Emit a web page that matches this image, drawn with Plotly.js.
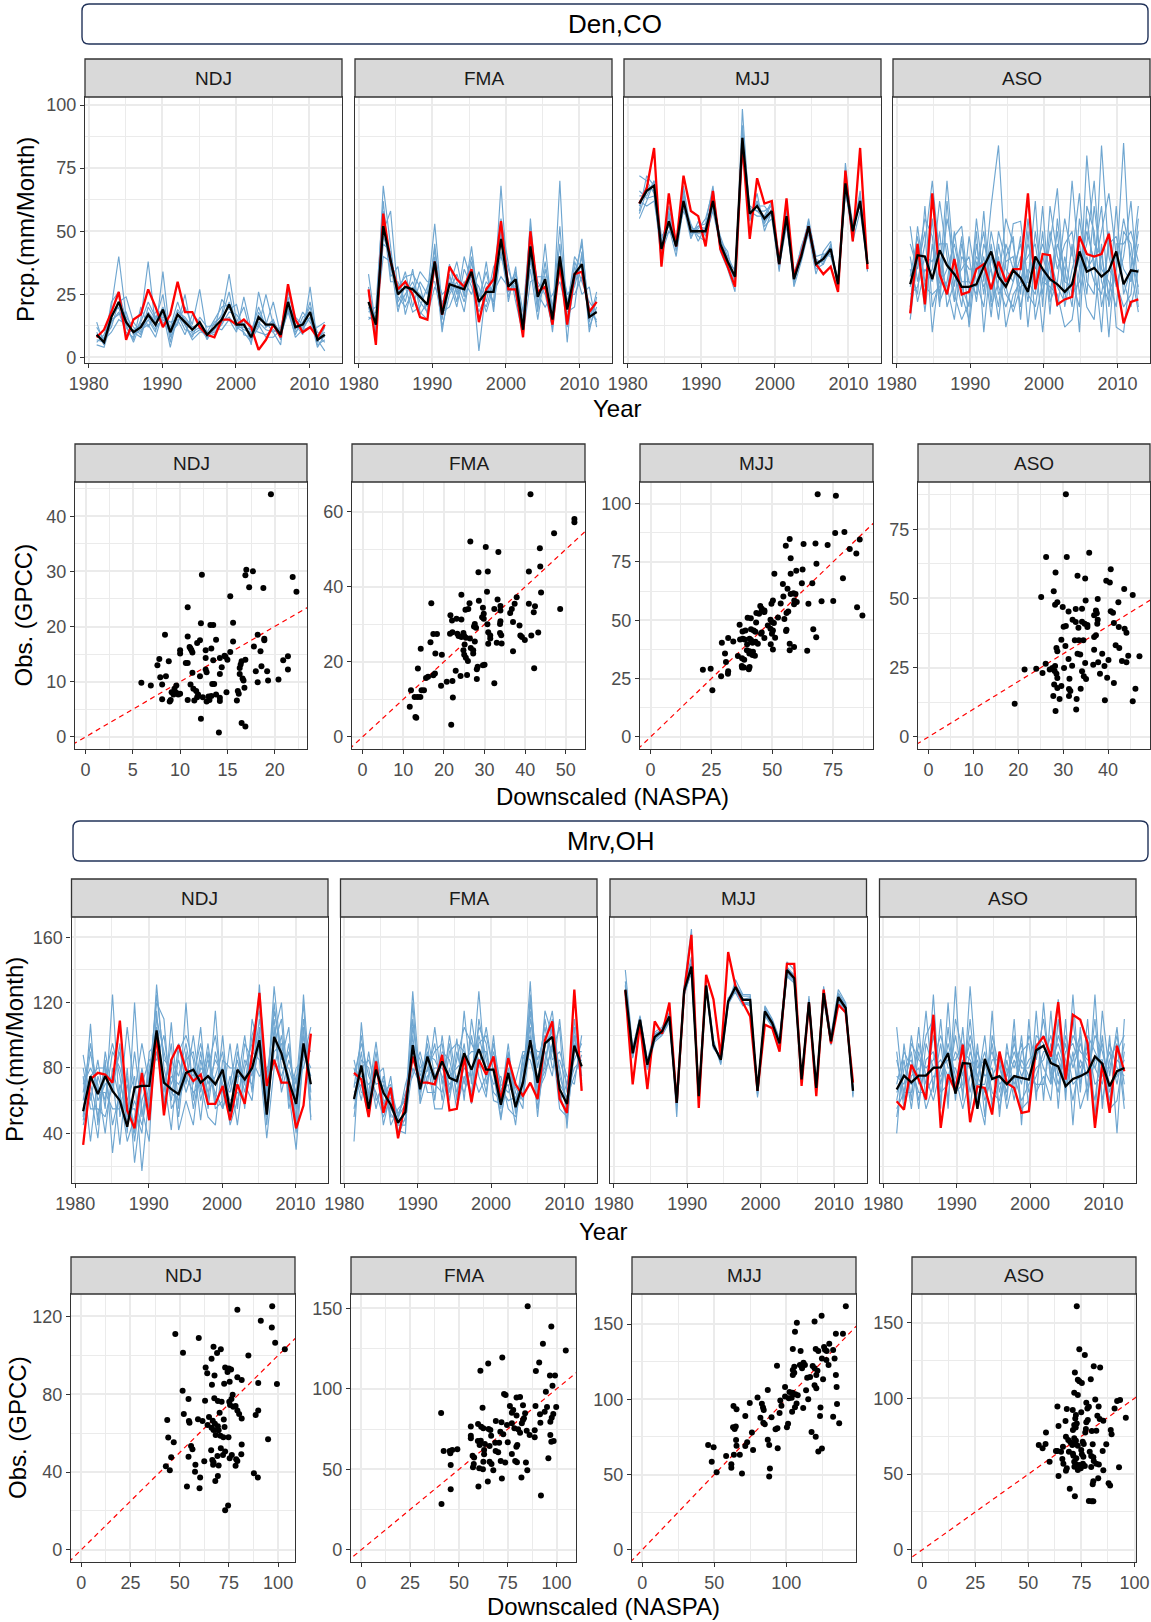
<!DOCTYPE html>
<html>
<head>
<meta charset="utf-8">
<script src="https://cdn.plot.ly/plotly-3.0.1.min.js"></script>
<style>html,body{margin:0;padding:0;background:#fff}</style>
</head>
<body>
<div id="chart" style="width:1151px;height:1622px"></div>
<script>
var seasons = ['NDJ', 'FMA', 'MJJ', 'ASO'];
var seasonMonth = [1, 4, 7, 10];
var years = [1981,1982,1983,1984,1985,1986,1987,1988,1989,1990,1991,1992,1993,1994,1995,1996,
             1997,1998,1999,2000,2001,2002,2003,2004,2005,2006,2007,2008,2009,2010,2011,2012];

// ---- Den,CO time series (obs = GPCC red, mean = black, ens = NASPA members) ----
var den_ndj_obs  = [8,11,18,26,7,15,17,27,20,12,17,30,18,18,12,9,8,15,15,13,15,12,3,7,13,8,29,15,10,12,8,13];
var den_ndj_mean = [9,6,16,22,14,10,12,17,13,19,10,17,14,11,14,9,12,15,21,13,13,8,16,13,13,9,22,12,13,18,7,9];
var den_ndj_ens = [
  [12,7,20,40,16,12,9,20,15,25,6,18,16,12,13,8,11,14,22,12,10,6,18,12,15,7,24,10,14,20,5,7],
  [5,4,14,18,10,8,15,38,12,15,12,22,13,8,16,12,13,17,33,14,20,9,14,11,10,12,21,15,11,16,8,10],
  [8,8,12,22,24,14,10,15,10,34,8,14,20,13,27,9,10,13,18,17,13,7,12,25,13,8,19,11,18,14,9,6],
  [14,5,18,25,12,7,20,12,18,18,4,17,11,10,12,8,14,16,26,11,15,5,26,14,10,5,28,13,9,28,6,12],
  [6,9,17,20,9,11,13,16,11,16,14,15,9,17,14,7,12,11,15,10,24,11,16,13,22,9,18,9,16,18,10,8],
  [10,5,22,26,15,10,8,18,14,20,11,19,15,12,13,10,15,20,21,13,11,10,20,12,14,10,22,12,12,16,4,9],
  [9,7,10,15,13,6,14,22,16,14,10,13,25,9,11,8,11,23,19,21,9,8,13,8,8,11,26,16,13,22,7,2.6],
  [7,6,15,17,18,9,11,13,8,18,9,17,13,7,10,10,9,14,16,12,12,11,10,9,11,9,20,8,11,12,12,14]
];
var den_fma_obs  = [27,5,57,38,27,30,25,16,15,38,17,36,31,28,35,14,27,31,54,27,27,8,50,26,28,13,37,13,33,34,18,22];
var den_fma_mean = [22,13,52,38,25,28,27,24,21,38,17,29,28,27,34,22,26,26,47,28,31,11,44,24,31,15,40,19,33,37,16,18];
var den_fma_ens = [
  [33,12,68,45,20,25,30,22,18,40,12,25,30,22,35,2.6,28,22,68,26,30,10,55,22,28,14,70,12,30,47,14,26],
  [15,18,50,58,25,34,20,30,25,53,20,33,22,40,30,25,20,30,45,35,25,12,40,18,45,16,35,20,40,35,18,15],
  [20,10,55,30,30,22,35,18,15,35,25,28,38,24,44,20,38,18,50,22,36,8,45,30,25,12,40,25,28,40,12,20],
  [25,15,40,38,18,30,25,34,30,30,15,37,25,30,25,34,22,36,40,30,28,14,35,15,35,20,45,6,38,30,22,18],
  [18,20,62,32,36,17,28,25,20,45,18,20,28,18,38,22,30,26,32,28,34,18,52,25,20,25,30,18,20,42,10,24],
  [28,13,45,42,22,28,18,20,28,38,10,30,20,35,28,18,25,32,55,37,22,9,30,32,32,10,38,22,36,25,28,12],
  [22,11,58,35,28,32,33,28,17,28,22,26,33,25,40,24,34,20,42,24,33,15,48,20,38,18,52,15,33,45,16,22],
  [16,14,48,40,24,20,26,17,22,43,16,32,26,28,32,28,18,28,48,30,27,11,38,28,30,15,36,25,25,32,20,14]
];
var den_mjj_obs  = [61,67,83,36,65,44,72,58,56,44,66,43,36,28,85,47,71,61,62,37,63,32,41,52,37,33,36,26,74,46,83,35];
var den_mjj_mean = [61,66,68,43,54,44,62,50,50,50,62,45,38,32,87,57,60,55,58,37,56,31,40,52,37,39,43,29,69,50,62,37];
var den_mjj_ens = [
  [72,70,65,38,58,42,66,48,52,53,68,42,35,26,98.4,55,62,52,55,35,58,28,38,50,35,37,45,27,77,48,65,34],
  [55,62,70,45,50,46,58,52,48,46,60,48,40,34,80,60,58,58,60,40,54,33,43,54,40,41,40,30,65,52,60,38],
  [60,68,66,40,56,44,64,50,50,50,64,45,38,30,90,56,62,54,57,38,57,30,41,51,36,40,44,28,70,50,63,36],
  [64,64,70,48,52,40,60,47,54,48,58,44,36,32,85,58,56,56,62,36,52,32,39,53,38,38,42,31,68,46,58,37],
  [58,72,68,42,60,46,62,53,46,52,62,46,42,29,88,54,65,50,58,34,60,29,42,49,33,42,46,26,72,53,62,39],
  [62,60,62,44,54,43,68,49,51,55,66,44,37,35,82,57,60,60,56,39,55,34,40,55,39,37,43,30,66,49,66,35],
  [57,66,69,41,50,47,60,52,49,49,60,47,39,31,92,59,58,55,61,37,58,31,44,52,36,40,41,29,70,51,61,38],
  [66,63,64,46,57,45,63,50,52,51,63,43,37,33,84,56,61,53,59,38,53,30,40,50,37,39,44,28,68,50,64,36]
];
var den_aso_obs  = [17.5,45,21,65,33,25,39,25,26,35,37,27,38,30,35,35,65,27,41,40.5,21,23,24,48,41,40,41,49,31,13.5,22,23];
var den_aso_mean = [29,40.5,40,31,42.5,36.5,33,28,28,29,36,42,32,28,34.5,31.5,26,40,35,31,29,26,29,42,34,35.5,32,34.5,42,29,34.5,34];
var den_aso_ens = [
  [52,30,45,70,40,25,50,28,20,55,30,60,84,35,30,40,22,50,30,45,67,25,30,20,80,45,40,25,35,85,30,45],
  [20,52,30,35,62,40,22,45,30,25,58,20,30,55,45,25,55,28,60,22,30,55,40,65,30,25,84,40,28,40,62,25],
  [35,25,60,20,30,70,35,20,48,30,20,45,25,30,53,54,30,62,20,60,40,30,70,35,45,70,30,22,60,25,35,60],
  [15,40,25,55,22,30,48,52,25,40,35,28,40,12,25,30,45,35,45,35,20,40,25,30,55,35,50,65,40,30,20,35],
  [40,22,35,30,50,20,30,35,40,22,45,35,20,45,35,45,25,20,40,30,50,20,35,45,25,60,35,30,20,50,45,20],
  [28,45,18,45,25,55,40,25,15,45,25,50,35,25,20,35,40,45,25,50,35,45,50,25,40,30,25,45,48,35,30,50],
  [45,35,50,10,35,28,15,40,35,35,50,22,50,38,40,20,35,30,35,25,45,35,20,55,35,40,60,20,35,55,40,28],
  [25,28,40,38,45,45,25,15,22,50,10,40,28,20,30,48,12,40,10,40,28,22,45,10,60,50,20,35,30,20,25,55],
  [32,48,28,25,28,35,45,30,30,28,40,16,45,28,18,28,30,25,50,17,55,30,28,40,20,15,45,8,45,45,50,38],
  [18,38,55,48,20,62,28,48,12,38,28,35,15,40,48,15,50,15,30,28,25,12,15,35,50,38,10,50,12,10,35,18]
];

// ---- Den,CO scatter: x = downscaled (NASPA), y = observed (GPCC) ----
var den_ndj_x = [19.6,17.0,17.7,16.9,12.3,21.9,22.3,17.3,18.8,15.3,10.8,12.2,13.2,13.5,15.6,8.4,10.8,18.2,18.9,18.9,13.8,12.1,15.6,11.8,11.0,11.2,11.1,10.0,10.0,11.3,13.3,12.7,17.8,18.5,15.3,14.7,14.8,15.0,14.2,13.5,12.7,7.8,8.8,7.6,10.6,10.8,16.5,16.4,16.3,16.9,14.4,12.7,12.8,11.3,14.2,16.3,18.0,18.6,19.2,21.4,20.9,21.4,8.5,7.9,12.1,16.6,16.7,19.3,18.2,20.4,5.9,6.9,8.1,9.6,9.4,9.1,9.6,9.8,9.3,10.0,11.1,11.4,11.7,13.4,13.6,11.8,11.9,12.4,13.0,13.3,13.8,12.8,13.1,14.2,14.2,14.9,16.1,16.2,16.0,16.8,9.0,8.1,8.9,10.8,11.5,12.2,14.1,16.5,16.9];
var den_ndj_y = [44.0,30.3,30.0,29.3,29.4,29.0,26.3,27.1,27.0,25.5,23.5,20.6,20.3,20.3,20.7,18.5,18.2,18.5,17.8,17.5,17.6,17.5,17.3,17.0,16.3,15.7,16.0,15.7,15.1,15.3,16.0,15.7,16.4,15.5,15.4,14.7,14.5,14.0,14.3,13.9,14.3,14.1,13.7,13.0,13.4,13.4,13.7,13.1,12.5,14.0,12.6,12.2,11.7,11.6,11.4,11.4,11.9,12.8,11.9,12.2,13.9,14.6,11.0,10.8,11.0,10.6,10.2,10.2,9.9,10.4,9.8,9.3,9.5,9.3,8.7,8.1,8.0,7.7,7.7,7.8,9.5,8.7,8.3,9.6,9.6,7.2,7.7,7.2,7.3,7.4,7.7,6.4,6.7,7.1,6.5,8.1,8.3,7.8,6.6,8.9,6.7,6.8,6.4,6.7,6.6,3.3,0.8,2.5,1.9];
var den_fma_x = [41.3,52.1,52.1,47.1,26.5,30.3,33.4,43.6,43.7,40.9,28.5,30.8,43.9,30.6,24.3,16.9,26.3,28.6,33.2,33.9,32.4,33.9,37.4,36.7,36.3,37.9,40.9,42.4,42.1,48.6,29.6,29.8,29.4,29.8,26.0,25.3,21.6,22.0,23.1,24.3,33.9,33.8,30.7,37.0,38.6,27.6,27.4,27.9,22.1,21.5,23.3,23.6,24.3,24.8,25.0,25.4,26.4,30.9,31.4,31.4,33.8,34.1,27.6,30.9,33.0,34.2,38.8,39.9,39.2,43.2,41.5,17.4,18.3,16.7,14.3,25.1,24.8,26.6,27.2,27.2,25.0,25.4,25.9,37.0,17.9,19.5,28.3,28.1,29.6,30.0,42.2,13.6,22.9,17.8,17.4,16.1,15.6,24.1,25.7,20.7,22.1,28.1,32.4,19.3,11.9,14.5,15.1,13.5,14.2,12.8,22.2,11.6,13.0,13.2,21.8];
var den_fma_y = [64.7,58.1,57.2,54.3,52.1,50.6,49.3,50.3,45.4,44.1,43.9,44.1,38.5,38.7,37.9,35.6,35.6,36.3,36.6,34.9,34.1,33.7,35.5,34.1,33.0,37.2,35.5,34.8,33.2,34.1,34.4,32.8,31.9,31.5,34.1,33.9,32.4,31.0,31.5,31.3,30.8,30.1,30.0,30.6,29.7,30.1,29.4,29.1,27.9,27.5,27.5,26.9,26.6,27.7,26.9,26.4,26.2,27.9,27.0,26.2,27.7,27.1,25.4,24.8,25.1,24.9,27.0,25.8,26.6,27.8,27.0,27.4,27.4,25.2,23.5,24.6,23.1,23.7,23.1,22.2,21.9,21.1,20.2,22.8,22.2,21.9,18.7,18.0,19.1,19.2,18.3,18.2,17.6,16.9,16.4,16.0,15.7,16.2,16.5,14.7,14.9,15.4,14.3,13.6,12.4,12.4,12.4,10.6,10.6,10.6,10.5,8.0,5.3,5.1,3.2];
var den_mjj_x = [68.7,76.2,57.2,55.6,62.9,67.8,72.8,75.9,79.7,81.9,86.0,84.6,57.6,68.2,79.1,62.5,59.9,57.6,50.9,62.2,66.5,54.4,56.3,54.6,57.6,58.8,59.6,59.1,60.1,59.0,50.3,49.7,53.5,64.9,70.3,75.1,56.6,55.9,84.9,87.1,45.1,45.7,46.8,45.6,46.8,43.5,44.6,52.4,55.0,39.9,41.2,49.3,50.1,50.7,48.2,36.6,43.4,55.9,55.7,66.9,49.3,50.3,37.8,39.0,41.3,42.4,43.1,45.7,45.4,49.9,51.2,46.8,68.1,36.8,37.9,38.7,40.7,41.3,34.0,31.9,29.3,41.9,43.1,44.1,39.7,49.4,57.2,59.0,57.2,50.3,64.4,39.6,40.7,42.1,30.6,40.6,41.9,42.9,35.9,37.6,38.5,31.0,37.5,38.4,37.6,40.7,40.4,31.9,31.8,21.5,24.7,29.0,25.4];
var den_mjj_y = [104.1,103.4,84.9,82.0,82.7,82.9,82.3,87.4,87.9,80.6,84.6,78.6,76.6,74.2,68.0,71.8,71.2,70.0,70.0,65.9,65.9,65.6,63.5,60.2,61.3,61.6,61.3,58.5,57.8,56.9,58.5,57.1,57.2,57.1,58.2,58.3,53.8,53.1,55.6,52.1,56.1,54.9,54.2,53.8,53.5,53.1,52.8,51.2,50.5,51.1,50.9,50.2,49.2,48.8,47.8,48.1,49.1,45.9,45.4,46.2,46.4,45.6,45.2,45.6,46.1,45.6,45.1,44.8,44.2,44.2,42.5,42.4,42.7,41.8,42.1,41.8,42.1,41.5,40.9,42.4,40.4,40.4,40.8,39.9,39.7,39.7,39.9,38.5,37.1,37.5,36.9,37.1,36.7,36.5,35.7,35.7,35.1,34.8,34.7,33.7,33.1,32.1,30.4,29.8,29.7,30.0,29.0,28.1,27.1,28.8,29.2,26.0,20.0];
var den_aso_x = [30.6,26.2,30.8,35.8,28.3,33.2,34.9,40.6,39.6,40.4,43.6,45.5,27.9,25.1,28.7,28.2,29.9,32.8,31.2,34.2,37.7,35.0,42.3,37.3,37.5,36.9,40.6,41.1,32.1,32.8,34.2,34.8,35.4,30.1,30.6,33.4,37.7,37.6,41.3,42.4,43.7,44.1,35.4,37.3,36.9,29.6,32.6,33.5,34.5,30.5,28.5,28.7,36.9,33.2,33.8,38.7,41.7,42.5,47.0,44.5,43.1,44.1,40.1,37.8,31.2,36.7,34.9,32.0,30.2,26.1,27.0,27.6,28.2,28.1,21.4,24.0,25.4,28.5,28.7,31.4,34.2,34.6,35.1,38.2,39.8,39.2,41.3,28.0,28.7,29.6,31.3,31.6,33.9,46.1,27.8,29.2,31.3,33.0,39.3,45.5,19.2,28.3,32.9];
var den_aso_y = [87.7,65.0,65.0,66.5,59.4,58.2,57.2,60.6,56.4,55.8,53.4,51.3,52.6,50.5,48.6,47.7,46.9,46.2,45.3,46.3,49.8,49.3,48.6,45.7,44.7,43.9,45.4,44.8,42.3,41.5,41.6,40.9,40.4,39.8,40.1,39.4,42.3,40.9,41.1,39.7,39.1,37.6,39.7,36.7,36.1,35.1,34.9,34.9,34.9,32.8,32.1,30.9,31.5,30.0,29.8,30.0,33.1,32.1,29.1,29.3,27.4,27.0,27.8,27.0,28.1,26.1,26.7,25.7,24.9,26.4,24.3,24.9,25.6,23.8,24.3,24.6,23.1,22.8,21.3,21.0,23.7,21.9,20.9,22.8,21.4,25.6,19.5,18.9,17.7,18.4,17.3,16.6,17.4,17.4,14.8,13.7,14.8,13.7,13.2,12.9,12.0,9.3,9.9];

// ---- Mrv,OH time series ----
var mrv_ndj_obs  = [33,73,77,76,71,109,54,43,77,48,101,51,85,94,79,72,76,58,58,69,48,70,58,88,126,69,85,71,71,43,57,101];
var mrv_ndj_mean = [53.5,75,64,75,66,60,44,68,69,69,103,71,67,64,77,79,71,75,70,79,53.5,79,73,80,97,51.5,99,89,72,58,95,70];
var mrv_ndj_ens = [
  [88,60,85,55,125,50,70,40,70,60,131,80,60,95,70,100,65,95,60,100,50,70,100,65,131,60,130,85,105,45,125,65],
  [50,107,45,90,65,95,40,120,50,80,100,55,108,55,120,60,90,60,115,55,70,95,55,110,90,45,100,120,60,80,85,105],
  [70,80,70,40,80,60,105,65,95,70,110,90,70,85,65,80,75,85,70,80,45,60,85,75,110,75,110,70,95,55,105,50],
  [45,65,37,85,28,70,55,55,40,90,95,70,85,75,95,70,105,55,90,70,65,85,65,90,85,37,80,100,65,30,90,80],
  [60,90,60,70,75,33,80,22,60,75,120,110,55,65,85,90,60,80,100,65,55,75,75,70,95,65,120,80,80,65,110,70],
  [75,35,75,60,90,80,60,75,17,65,90,65,95,42,60,45,85,65,75,90,50,90,70,100,115,55,90,95,70,50,95,90],
  [55,75,80,80,45,65,35,50,80,55,105,75,42,90,100,85,48,90,55,60,95,55,95,85,75,80,85,75,90,60,100,60],
  [80,55,55,50,70,90,50,90,55,35,115,60,75,70,80,75,95,70,85,75,60,65,60,80,100,70,95,110,55,75,80,100],
  [65,95,65,65,55,55,75,35,70,85,85,100,65,60,75,65,70,50,45,85,80,80,70,60,105,50,105,65,85,70,120,48],
  [48,70,50,75,95,75,45,60,45,70,125,85,80,50,90,55,80,75,65,55,75,45,80,95,120,65,115,90,75,40,90,75]
];
var mrv_fma_obs  = [77,73,50,84,52.5,68,37,59,87,71,71,70,88,54,55,87,59,85,76,87,60,86,70,63,71,61,97,108.5,61,52.5,128,66];
var mrv_fma_mean = [61,81.5,55,79,65,57.5,46.5,53,94,67,87,73,84,74,72,89,79,91.6,79,79,57.5,77,56,71,97,71,95,99,67,58,93.6,81];
var mrv_fma_ens = [
  [35,108,60,90,55,75,40,55,127,70,95,60,100,65,98,60,110,80,105,75,48,80,60,70,133,60,115,100,80,55,110,75],
  [80,60,90,60,70,50,50,65,75,90,70,105,70,95,60,115,70,127,70,90,70,65,72,90,90,75,80,110,60,70,85,95],
  [60,90,55,85,45,65,45,45,100,60,100,75,85,75,80,85,90,90,90,65,60,95,55,65,110,85,100,90,105,43,100,70],
  [70,75,70,75,80,45,55,60,90,80,85,55,55,80,55,75,65,100,80,85,65,70,45,85,100,50,95,115,75,60,95,80],
  [85,65,65,96,60,60,38,50,110,65,80,90,95,60,90,70,100,75,62,100,55,85,65,55,125,70,110,85,90,75,70,100],
  [50,85,80,55,75,55,48,70,85,75,90,70,65,100,70,95,58,110,85,70,75,55,50,75,115,65,75,95,55,50,105,68],
  [65,70,50,80,65,70,42,40,120,58,75,80,80,70,75,65,80,65,75,80,50,75,68,60,95,90,90,75,110,65,80,85],
  [75,95,75,65,50,62,52,62,95,85,65,65,90,85,65,80,75,105,95,60,58,90,58,80,105,55,85,105,65,48,90,90],
  [55,80,85,70,72,52,46,48,80,70,88,85,75,65,85,105,95,85,65,95,68,60,62,70,120,80,105,80,85,70,100,72],
  [68,100,62,82,58,68,50,58,105,78,78,95,60,90,95,90,62,95,100,78,62,88,52,88,85,68,78,92,70,62,75,88]
];
var mrv_mjj_obs  = [127.5,70,107.5,67,108.5,101,120,58.6,126,161.5,55.6,137,122,87,151,130,120,111.5,66,106.5,104.4,90,143.7,143.7,69,120,62.7,128,95,118.7,114,71];
var mrv_mjj_mean = [128,89,109.5,82,99,102.4,111.5,58.6,127,142,62.7,130.5,94,85,120.7,129.5,121.7,121.7,66,114.6,107.5,95,140,135,73,120.3,67.8,125.8,96.3,123.4,116.7,66];
var mrv_mjj_ens = [
  [140,92,112,85,102,105,114,50,130,165,60,133,96,82,118,134,125,125,62,118,110,98,145,140,70,124,66,130,100,128,120,62],
  [122,86,106,80,96,100,108,60,124,140,65,128,92,88,123,126,118,120,68,112,105,92,136,132,75,118,70,122,94,120,113,68],
  [130,90,110,83,100,104,112,57,128,145,62,131,95,84,121,130,122,123,64,116,109,96,142,136,72,121,66,127,97,125,118,64],
  [125,88,108,79,98,101,110,60,126,138,64,129,93,86,119,128,120,118,67,113,106,94,138,134,74,119,69,124,95,122,115,67],
  [133,91,111,84,101,103,113,56,129,148,61,132,97,83,122,131,124,124,63,117,108,97,141,137,71,122,67,128,98,126,119,63],
  [127,87,108,81,97,102,110,59,125,141,64,129,92,86,120,128,120,120,66,113,106,93,139,134,74,119,68,124,95,122,116,67],
  [131,89,111,82,99,103,112,58,127,143,63,131,94,85,121,130,122,122,65,115,108,95,141,135,73,121,68,126,96,124,117,65],
  [124,87,107,80,98,101,109,59,125,139,63,128,93,85,119,127,120,119,66,114,106,94,137,133,73,119,68,125,95,121,115,66]
];
var mrv_aso_obs  = [59.6,54.5,82,73,60.7,112.6,43.3,76,65.7,94.3,46.8,68.8,67.8,51.5,90,70.8,67.8,52.5,53.5,93.2,99.3,87,120.3,72.9,112.6,109.5,95.3,43.3,83,52.5,93.6,78];
var mrv_aso_mean = [66.8,75.3,71.2,75.3,75.3,80,80.4,89,64.3,83,82.6,55,85.5,73.3,75,70,75,74,72.9,90.8,93.6,83,81,68.8,73.3,75,77.4,87,82.6,68.8,78,80];
var mrv_aso_ens = [
  [105,60,100,70,115,65,110,55,130,60,130,70,100,55,90,60,110,45,110,60,120,70,122,60,125,65,110,50,115,75,105,60],
  [40,95,60,105,60,125,55,120,60,105,55,95,50,115,50,95,65,100,55,115,60,115,55,110,45,105,60,125,55,100,40,110],
  [75,70,90,55,95,80,85,75,90,80,95,60,80,90,70,75,90,75,85,90,100,85,95,80,100,90,85,80,95,65,85,80],
  [60,85,55,90,70,100,70,95,75,55,75,85,60,75,85,55,75,60,70,80,85,100,75,95,70,75,95,70,75,90,70,95],
  [90,55,75,80,55,70,95,60,110,90,85,75,90,65,60,85,60,90,95,65,75,60,110,65,90,55,70,110,60,85,95,55],
  [50,80,85,60,85,90,60,105,65,70,110,65,45,100,80,65,100,55,60,100,95,80,65,100,80,95,80,60,100,55,60,90],
  [85,65,65,95,75,60,80,85,85,95,65,90,75,80,55,80,70,85,75,70,70,95,85,70,110,70,100,90,80,80,100,70],
  [65,75,70,75,100,110,65,70,100,75,100,80,85,60,75,70,85,70,100,85,110,75,100,85,60,85,75,100,90,70,75,85],
  [70,90,80,65,65,75,75,90,70,85,80,70,70,95,65,90,80,95,65,75,90,90,70,90,95,80,90,80,70,95,80,75],
  [55,65,95,85,80,85,100,80,80,65,90,75,65,85,85,75,95,80,80,95,80,70,90,75,85,100,65,85,85,60,90,100]
];

// ---- Mrv,OH scatter ----
var mrv_ndj_x = [97.0,79.3,91.2,96.8,47.8,59.7,98.5,67.2,70.9,69.0,51.7,103.4,84.9,66.2,63.2,64.0,67.7,73.1,75.0,76.1,74.3,79.3,81.5,75.4,72.6,66.4,89.9,99.4,51.5,54.5,62.9,67.6,69.4,71.3,76.9,76.3,75.2,75.6,77.2,78.4,79.3,80.2,81.5,70.3,89.9,88.6,52.1,54.7,55.0,43.7,59.3,61.6,64.9,66.8,67.9,64.2,66.2,67.2,69.4,69.8,68.3,72.4,72.8,70.7,72.2,74.8,44.2,47.0,81.5,94.9,55.8,56.5,54.5,70.9,73.1,72.0,66.0,69.2,75.4,76.5,78.7,79.3,81.3,66.6,67.2,67.0,69.8,62.5,58.0,57.8,45.7,43.0,45.0,78.4,87.7,89.7,60.4,69.4,68.1,53.7,60.1,73.1,74.6];
var mrv_ndj_y = [125.3,123.5,117.8,114.4,111.0,108.9,106.5,104.5,103.1,101.2,101.4,103.1,100.0,98.3,93.8,90.8,89.7,93.8,93.3,92.8,91.4,88.7,87.3,86.5,85.4,84.9,85.8,85.3,81.8,77.6,76.7,77.9,76.5,76.2,79.8,77.6,76.2,74.5,73.6,74.0,71.6,69.9,67.6,70.5,71.7,69.3,69.9,66.3,65.4,66.8,67.1,66.3,68.3,66.4,64.9,64.2,62.8,61.6,63.5,61.5,59.1,67.0,63.2,58.7,57.9,57.9,57.7,55.3,54.1,56.8,53.4,51.7,47.8,52.2,50.5,48.8,51.2,48.3,47.1,48.8,46.6,45.7,49.1,46.2,45.0,43.7,43.3,45.5,43.8,40.2,47.6,43.0,40.9,43.2,39.4,37.2,37.2,38.0,35.4,32.5,31.7,20.4,22.8];
var mrv_fma_x = [85.2,97.3,93.0,104.7,72.2,65.0,91.1,89.4,61.0,96.6,99.2,97.9,94.5,73.1,73.9,79.5,81.3,62.1,76.1,82.8,89.2,95.1,99.8,77.8,77.1,79.5,83.9,83.3,91.5,93.9,98.3,97.5,96.8,68.9,71.8,74.6,77.1,82.8,82.2,91.7,56.1,59.8,61.4,62.5,65.2,66.1,78.4,80.3,81.3,84.7,86.2,88.8,88.8,96.8,97.3,98.5,56.1,56.1,66.5,71.2,72.7,61.2,59.7,60.6,63.3,68.6,70.6,75.0,79.4,79.9,65.7,62.9,68.8,70.1,77.1,62.9,57.0,57.8,42.2,45.3,46.6,49.2,45.6,45.8,57.6,57.2,62.5,60.4,62.3,65.7,66.7,71.4,73.7,78.8,79.7,84.3,67.6,85.0,95.8,64.8,72.0,82.0,60.0,45.8,41.1,92.0,40.9];
var mrv_fma_y = [151.4,138.8,128.0,123.9,119.5,115.8,116.4,111.1,111.3,108.4,108.4,101.9,98.2,96.8,96.2,94.7,94.9,88.3,89.3,89.8,89.3,88.7,88.7,86.9,85.2,83.4,84.8,81.7,84.2,85.8,84.4,82.1,79.6,80.0,79.2,77.6,78.6,80.7,78.6,79.0,76.7,78.2,76.5,75.5,75.1,74.5,75.5,74.9,72.8,74.0,71.4,74.3,69.9,71.4,67.2,67.6,70.9,69.3,70.9,73.4,71.8,67.8,67.6,65.1,65.8,66.6,66.6,66.8,64.1,65.1,64.5,62.0,61.4,60.6,59.6,59.4,58.5,57.3,61.4,61.4,62.0,62.5,60.0,52.7,53.4,51.3,54.8,50.7,50.1,54.8,53.4,55.2,54.2,55.2,54.4,54.2,49.4,49.4,56.9,42.4,44.3,44.9,39.3,37.6,28.5,33.7,85.0];
var mrv_mjj_x = [141.4,124.6,107.4,119.7,106.1,134.5,139.4,129.9,126.3,126.9,128.1,120.5,122.3,104.6,110.0,132.6,133.6,124.8,127.9,129.4,93.6,112.0,113.0,109.5,111.0,105.6,104.6,105.6,104.6,118.4,119.7,121.7,120.9,114.6,116.6,125.6,134.5,99.2,119.7,120.9,135.0,113.8,102.3,104.4,106.4,108.0,87.2,99.2,101.8,103.8,80.1,95.9,83.1,83.9,84.4,74.7,96.7,95.4,107.2,106.1,111.8,115.3,123.8,135.3,63.4,65.5,104.1,89.8,82.1,71.6,84.1,85.1,101.3,100.5,93.9,92.6,63.1,65.0,64.2,132.6,123.5,136.8,117.6,120.5,76.2,65.2,65.5,72.9,71.6,87.2,88.2,94.1,77.0,122.3,124.8,45.8,49.6,58.3,67.8,63.7,48.3,61.9,61.9,51.7,69.3,88.7,88.2];
var mrv_mjj_y = [161.9,155.5,150.9,151.8,144.9,143.6,143.6,136.9,134.7,132.9,132.1,133.4,132.1,133.4,132.1,132.7,127.2,127.2,126.1,122.8,122.3,124.3,122.8,122.8,120.6,121.7,119.5,117.7,116.2,122.1,120.6,119.0,116.2,114.4,114.8,113.3,116.2,108.2,109.3,107.3,108.2,106.0,104.9,104.4,103.3,102.7,106.2,101.8,100.7,101.1,101.3,99.3,97.1,94.5,92.9,97.6,95.8,90.9,97.3,94.7,94.2,100.0,94.5,96.9,95.6,93.4,91.8,88.1,87.8,88.9,84.5,83.4,83.8,81.4,80.8,80.1,81.4,81.9,80.3,88.5,88.9,84.1,78.3,75.2,77.9,73.0,69.2,71.5,69.0,73.2,69.7,67.5,66.4,65.3,67.3,69.7,68.1,62.4,63.1,63.1,58.6,56.9,54.6,51.5,50.7,54.0,48.7];
var mrv_aso_x = [72.8,74.0,76.6,80.8,83.8,71.9,79.4,73.3,74.0,75.2,71.6,73.3,81.5,91.8,93.2,95.9,90.6,63.7,70.9,68.1,74.9,77.3,77.8,78.5,83.1,72.4,72.1,72.8,78.0,77.3,82.5,83.6,85.3,67.5,71.6,72.3,71.0,64.2,77.1,76.8,79.9,82.0,88.8,89.2,58.3,58.1,54.9,56.7,67.7,68.8,69.8,71.6,72.4,75.6,76.1,71.9,70.7,73.3,80.3,86.7,66.3,65.4,63.0,63.7,69.1,71.0,74.9,78.9,85.0,71.2,72.6,75.2,75.9,79.6,80.6,80.8,82.0,66.0,66.5,60.0,71.6,72.3,74.0,75.7,76.6,74.7,71.7,73.3,68.1,67.7,79.6,83.2,85.3,92.7,64.2,82.9,80.6,80.3,87.8,88.5,69.5,71.9,78.5,79.9,80.6];
var mrv_aso_y = [160.9,132.5,128.6,121.3,120.4,117.1,112.7,112.3,111.4,110.1,103.7,102.2,99.3,98.2,98.9,87.3,93.4,94.7,92.3,93.0,90.8,97.1,93.4,94.5,94.7,89.0,86.8,83.5,85.7,84.2,88.6,86.4,85.3,85.1,82.4,80.7,79.1,81.8,79.8,77.4,78.5,78.7,79.1,76.3,77.4,69.9,69.2,67.0,74.7,72.5,71.0,73.6,72.1,71.4,69.9,69.9,69.2,68.8,69.7,69.7,68.1,64.8,65.3,65.3,64.8,63.5,65.9,64.8,65.3,62.2,60.4,63.1,61.5,62.0,61.1,58.7,56.9,60.0,56.9,58.2,58.2,56.7,56.0,56.9,55.4,53.8,54.9,52.7,53.8,52.3,54.7,56.3,52.5,54.5,48.8,47.3,45.3,43.3,44.0,42.4,40.4,35.4,32.3,32.1,32.1];

// ---- figure geometry (pixels) ----
var W = 1151, H = 1622;
var FONT = '"Liberation Sans", Arial, Helvetica, sans-serif';
function fx(p) { return p / W; }
function fy(p) { return 1 - p / H; }

var rows = [
  {kind: 'ts', site: 'den', strip: [59, 97], panel: [97, 363],
   cols: [[85, 342], [355, 612], [624, 881], [893, 1150]], yDtick: 25,
   xTitle: 'Year', xTitleY: 409, yTitle: 'Prcp.(mm/Month)', yTitleX: 25},
  {kind: 'sc', site: 'den', strip: [444, 482], panel: [482, 749],
   cols: [[75, 307], [352, 585], [640, 873], [918, 1150]], xDticks: [5, 10, 25, 10], yDticks: [10, 20, 25, 25],
   xTitle: 'Downscaled (NASPA)', xTitleY: 796, yTitle: 'Obs. (GPCC)', yTitleX: 23},
  {kind: 'ts', site: 'mrv', strip: [879, 917], panel: [917, 1183],
   cols: [[71.5, 328], [340.5, 597], [610, 866.5], [879.5, 1136]], yDtick: 40,
   xTitle: 'Year', xTitleY: 1231, yTitle: 'Prcp.(mm/Month)', yTitleX: 14},
  {kind: 'sc', site: 'mrv', strip: [1257, 1294], panel: [1294, 1562],
   cols: [[71, 295], [351, 576], [632, 856], [912, 1136]], xDticks: [25, 25, 50, 25], yDticks: [40, 50, 50, 50],
   xTitle: 'Downscaled (NASPA)', xTitleY: 1606, yTitle: 'Obs. (GPCC)', yTitleX: 17}
];
var headers = [
  {text: 'Den,CO', box: [82, 4, 1148, 44]},
  {text: 'Mrv,OH', box: [73, 821, 1148, 861]}
];

var tsData = {
  den: [[den_ndj_ens, den_ndj_obs, den_ndj_mean], [den_fma_ens, den_fma_obs, den_fma_mean],
        [den_mjj_ens, den_mjj_obs, den_mjj_mean], [den_aso_ens, den_aso_obs, den_aso_mean]],
  mrv: [[mrv_ndj_ens, mrv_ndj_obs, mrv_ndj_mean], [mrv_fma_ens, mrv_fma_obs, mrv_fma_mean],
        [mrv_mjj_ens, mrv_mjj_obs, mrv_mjj_mean], [mrv_aso_ens, mrv_aso_obs, mrv_aso_mean]]
};
var scData = {
  den: [[den_ndj_x, den_ndj_y], [den_fma_x, den_fma_y], [den_mjj_x, den_mjj_y], [den_aso_x, den_aso_y]],
  mrv: [[mrv_ndj_x, mrv_ndj_y], [mrv_fma_x, mrv_fma_y], [mrv_mjj_x, mrv_mjj_y], [mrv_aso_x, mrv_aso_y]]
};

// ggplot-like 5% expansion
function padRange(lo, hi) { var d = (hi - lo) * 0.05; return [lo - d, hi + d]; }
function seasonX(j) { return years.map(function (y) { return y + seasonMonth[j] / 12; }); }

function axisStyle(domain, anchor, range, dtick, tick0) {
  return {
    domain: domain, anchor: anchor, range: range, tick0: tick0, dtick: dtick,
    showline: true, mirror: true, linecolor: '#333333', linewidth: 1.3,
    showgrid: true, gridcolor: '#ebebeb', gridwidth: 1.8, zeroline: false,
    minor: {tick0: tick0, dtick: dtick / 2, showgrid: true, gridcolor: '#ebebeb', gridwidth: 0.9},
    ticks: 'outside', ticklen: 4, tickwidth: 1.3, tickcolor: '#333333',
    tickfont: {family: FONT, size: 18, color: '#4d4d4d'},
    fixedrange: true
  };
}

var traces = [], shapes = [], annotations = [];
var layout = {
  width: W, height: H, margin: {l: 0, r: 0, t: 0, b: 0},
  paper_bgcolor: '#ffffff', plot_bgcolor: '#ffffff', showlegend: false,
  font: {family: FONT}, shapes: shapes, annotations: annotations
};

var n = 0;
rows.forEach(function (row) {
  var tsY, tsXR;
  if (row.kind === 'ts') {
    var all = [], xs = [];
    tsData[row.site].forEach(function (s, j) {
      s[0].forEach(function (m) { all = all.concat(m); });
      all = all.concat(s[1], s[2]);
      xs = xs.concat(seasonX(j));
    });
    tsY = padRange(Math.min.apply(null, all), Math.max.apply(null, all));
    tsXR = padRange(Math.min.apply(null, xs), Math.max.apply(null, xs));
  }

  row.cols.forEach(function (c, j) {
    n++;
    var sfx = n === 1 ? '' : String(n);
    var xr, yr;
    var xdom = [fx(c[0]), fx(c[1])], ydom = [fy(row.panel[1]), fy(row.panel[0])];

    if (row.kind === 'ts') {
      var s = tsData[row.site][j], xv = seasonX(j);
      xr = tsXR; yr = tsY;
      s[0].forEach(function (m) {
        traces.push({x: xv, y: m, xaxis: 'x' + sfx, yaxis: 'y' + sfx, type: 'scatter', mode: 'lines',
          line: {color: '#6fa6d0', width: 1.15}, hoverinfo: 'skip'});
      });
      traces.push({x: xv, y: s[1], xaxis: 'x' + sfx, yaxis: 'y' + sfx, type: 'scatter', mode: 'lines',
        line: {color: '#ff0000', width: 2.3}, hoverinfo: 'skip'});
      traces.push({x: xv, y: s[2], xaxis: 'x' + sfx, yaxis: 'y' + sfx, type: 'scatter', mode: 'lines',
        line: {color: '#000000', width: 2.3}, hoverinfo: 'skip'});
      layout['xaxis' + sfx] = axisStyle(xdom, 'y' + sfx, xr, 10, 1980);
      var ya = axisStyle(ydom, 'x' + sfx, yr, row.yDtick, 0);
      if (j > 0) { ya.showticklabels = false; ya.ticks = ''; }
      layout['yaxis' + sfx] = ya;
    } else {
      var p = scData[row.site][j];
      xr = padRange(Math.min(0, Math.min.apply(null, p[0])), Math.max.apply(null, p[0]));
      yr = padRange(Math.min(0, Math.min.apply(null, p[1])), Math.max.apply(null, p[1]));
      var lo = Math.min(xr[0], yr[0]), hi = Math.max(xr[1], yr[1]);
      traces.push({x: [lo, hi], y: [lo, hi], xaxis: 'x' + sfx, yaxis: 'y' + sfx, type: 'scatter', mode: 'lines',
        line: {color: '#ff0000', width: 1.2, dash: '5px,4px'}, hoverinfo: 'skip'});
      traces.push({x: p[0], y: p[1], xaxis: 'x' + sfx, yaxis: 'y' + sfx, type: 'scatter', mode: 'markers',
        marker: {color: '#000000', size: 6}, hoverinfo: 'skip', cliponaxis: false});
      layout['xaxis' + sfx] = axisStyle(xdom, 'y' + sfx, xr, row.xDticks[j], 0);
      layout['yaxis' + sfx] = axisStyle(ydom, 'x' + sfx, yr, row.yDticks[j], 0);
    }

    // facet strip
    shapes.push({type: 'rect', xref: 'paper', yref: 'paper', x0: fx(c[0]), x1: fx(c[1]),
      y0: fy(row.strip[1]), y1: fy(row.strip[0]), fillcolor: '#d9d9d9',
      line: {color: '#333333', width: 1.3}, layer: 'above'});
    annotations.push({xref: 'paper', yref: 'paper', x: fx((c[0] + c[1]) / 2), y: fy((row.strip[0] + row.strip[1]) / 2),
      text: seasons[j], showarrow: false, xanchor: 'center', yanchor: 'middle',
      font: {family: FONT, size: 19, color: '#1a1a1a'}});
  });

  var left = row.cols[0][0], right = row.cols[3][1];
  annotations.push({xref: 'paper', yref: 'paper', x: fx((left + right) / 2), y: fy(row.xTitleY),
    text: row.xTitle, showarrow: false, xanchor: 'center', yanchor: 'middle',
    font: {family: FONT, size: 24, color: '#000000'}});
  annotations.push({xref: 'paper', yref: 'paper', x: fx(row.yTitleX), y: fy((row.panel[0] + row.panel[1]) / 2),
    text: row.yTitle, textangle: -90, showarrow: false, xanchor: 'center', yanchor: 'middle',
    font: {family: FONT, size: 24, color: '#000000'}});
});

// rounded site header boxes
headers.forEach(function (h) {
  var x0 = h.box[0], t = h.box[1], x1 = h.box[2], b = h.box[3], r = 7;
  function P(x, y) { return fx(x) + ',' + fy(y); }
  var path = 'M ' + P(x0 + r, t) + ' L ' + P(x1 - r, t) + ' Q ' + P(x1, t) + ' ' + P(x1, t + r) +
    ' L ' + P(x1, b - r) + ' Q ' + P(x1, b) + ' ' + P(x1 - r, b) +
    ' L ' + P(x0 + r, b) + ' Q ' + P(x0, b) + ' ' + P(x0, b - r) +
    ' L ' + P(x0, t + r) + ' Q ' + P(x0, t) + ' ' + P(x0 + r, t) + ' Z';
  shapes.push({type: 'path', xref: 'paper', yref: 'paper', path: path,
    fillcolor: '#ffffff', line: {color: '#22335a', width: 1.4}});
  annotations.push({xref: 'paper', yref: 'paper', x: fx((x0 + x1) / 2), y: fy((t + b) / 2),
    text: h.text, showarrow: false, xanchor: 'center', yanchor: 'middle',
    font: {family: FONT, size: 26, color: '#000000'}});
});

Plotly.newPlot('chart', traces, layout, {displayModeBar: false, responsive: false});
</script>
